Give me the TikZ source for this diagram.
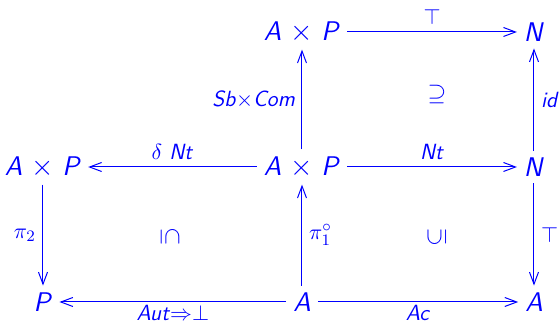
\documentclass[tikz,border=0pt]{standalone}
\usetikzlibrary{arrows.meta,positioning,calc}
\newcommand{\mv}[1]{\textsf{\textit{#1}}}
\newcommand{\AxP}{\mv{A} $\times$ \mv{P}}
\begin{document}
\begin{tikzpicture}[x=0.5pt, y=-0.5pt, on grid,
        obj/.style={font=\fontsize{13.5}{16}\selectfont, text=blue},
        map/.style={-{Straight Barb[length=6pt,width=4.5pt]}, draw=blue, line width=0.5pt},
        lbl/.style={font=\fontsize{11}{13}\selectfont, text=blue},
        cell/.style={font=\fontsize{13}{15}\selectfont, text=blue}]
        \useasboundingbox (0,0) rectangle (559,325);

        \node[obj] (apL) at (43,167) {\AxP};
        \node[obj, right=129.5pt of apL] (apM) {\AxP};
        \node[obj, right=116pt of apM] (nM) {\mv{N}};
        \node[obj, above=67.5pt of apM] (apT) {\AxP};
        \node[obj, above=67.5pt of nM] (nT) {\mv{N}};
        \node[obj, below=67.5pt of apL] (pB) {\mv{P}};
        \node[obj, below=67.5pt of apM] (aB) {\mv{A}};
        \node[obj, below=67.5pt of nM] (aR) {\mv{A}};

        % cells
        \node[cell] (upper) at (437,95) {$\supseteq$};
        \node[cell, rotate=-90] (lowL) at (170,237) {$\subseteq$};
        \node[cell, rotate=90] (lowR) at (437,237) {$\subseteq$};

        \draw[map] (apT) -- node[lbl, above] {$\top$} (nT);
        \draw[map] (apM) -- node[lbl, left] {\mv{Sb}${\times}$\mv{Com}} (apT);
        \draw[map] (nM) -- node[lbl, right] {\mv{id}} (nT);
        \draw[map] (apM) -- node[lbl, above] {$\delta$ \mv{Nt}} (apL);
        \draw[map] (apM) -- node[lbl, above] {\mv{Nt}} (nM);
        \draw[map] (apL) -- node[lbl, left] {$\pi_2$} (pB);
        \draw[map] (aB) -- node[lbl, right] {$\pi_1^\circ$} (apM);
        \draw[map] (nM) -- node[lbl, right] {$\top$} (aR);
        \draw[map] (aB) -- node[lbl, below, inner sep=1.5pt] {\mv{Aut}$\Rightarrow$$\bot$} (pB);
        \draw[map] (aB) -- node[lbl, below, inner sep=1.5pt] {\mv{Ac}} (aR);

    \end{tikzpicture}
\end{document}
